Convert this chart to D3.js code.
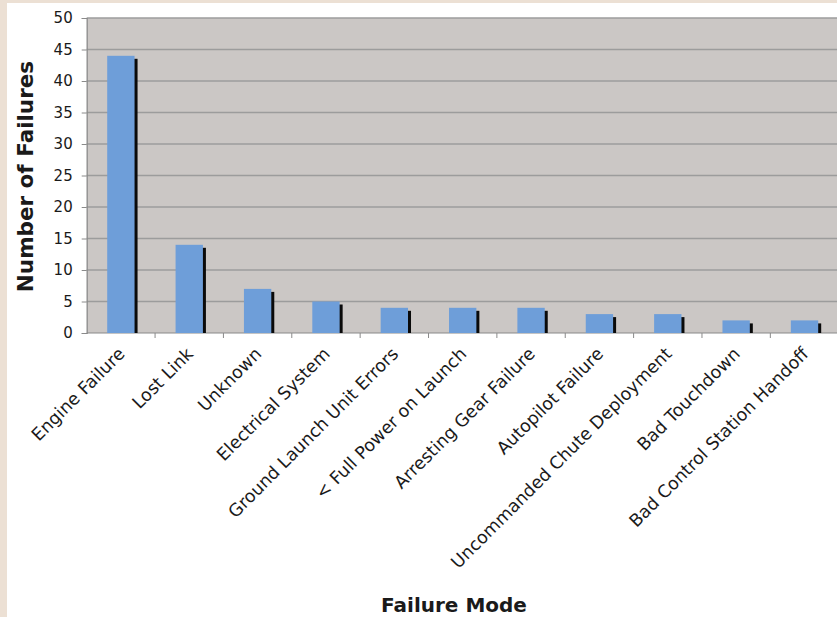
<!DOCTYPE html>
<html>
<head>
<meta charset="utf-8">
<script src="https://cdn.jsdelivr.net/npm/d3@7"></script>
<style>
  html, body { margin: 0; padding: 0; background: #ece0d4; }
  svg { display: block; }
  text { font-family: "DejaVu Sans", Verdana, sans-serif; fill: #1a1a1a; }
</style>
</head>
<body>
<svg id="chart" width="837" height="617"></svg>
<script>
// Failure counts by mode
const categories = [
  "Engine Failure",
  "Lost Link",
  "Unknown",
  "Electrical System",
  "Ground Launch Unit Errors",
  "< Full Power on Launch",
  "Arresting Gear Failure",
  "Autopilot Failure",
  "Uncommanded Chute Deployment",
  "Bad Touchdown",
  "Bad Control Station Handoff"
];
const failures = [44, 14, 7, 5, 4, 4, 4, 3, 3, 2, 2];
const yTicks = [0, 5, 10, 15, 20, 25, 30, 35, 40, 45, 50];
const yTitle = "Number of Failures";
const xTitle = "Failure Mode";

const W = 837, H = 617;
const plot = { left: 86.7, right: 838.7, top: 18, bottom: 333 };

const svg = d3.select("#chart");

// page frame: beige margin with white chart panel
svg.append("rect").attr("x", 0).attr("y", 0).attr("width", W).attr("height", H).attr("fill", "#ece0d4");
svg.append("rect").attr("x", 7).attr("y", 3).attr("width", W - 7).attr("height", H - 3).attr("fill", "#ffffff");

const x = d3.scaleBand()
  .domain(categories)
  .range([plot.left, plot.right])
  .paddingInner(0.6)
  .paddingOuter(0.3);

// category slots (no padding) for the tick marks between categories
const slot = d3.scaleBand().domain(categories).range([plot.left, plot.right]).padding(0);

const y = d3.scaleLinear().domain([0, 50]).range([plot.bottom, plot.top]);

// plot background
svg.append("rect")
  .attr("x", plot.left).attr("y", plot.top)
  .attr("width", plot.right - plot.left).attr("height", plot.bottom - plot.top)
  .attr("fill", "#cbc7c5");

// horizontal gridlines
svg.append("g").selectAll("line").data(yTicks.filter(d => d > 0)).join("line")
  .attr("x1", plot.left).attr("x2", plot.right)
  .attr("y1", d => y(d)).attr("y2", d => y(d))
  .attr("stroke", "#9c9c9c").attr("stroke-width", 1.5);

// y axis
const yAxis = svg.append("g")
  .attr("transform", `translate(${plot.left},0)`)
  .call(d3.axisLeft(y).tickValues(yTicks).tickSize(5).tickPadding(9));
yAxis.select(".domain").attr("stroke", "#8a8a8a").attr("stroke-width", 1.2);
yAxis.selectAll(".tick line").attr("stroke", "#8a8a8a");
yAxis.selectAll(".tick text")
  .style("font-family", '"DejaVu Sans", Verdana, sans-serif')
  .style("font-size", "15px").attr("fill", "#1a1a1a");

// x axis baseline and tick marks at category boundaries
svg.append("line")
  .attr("x1", plot.left).attr("x2", plot.right)
  .attr("y1", plot.bottom).attr("y2", plot.bottom)
  .attr("stroke", "#8a8a8a").attr("stroke-width", 1.2);
svg.append("g").selectAll("line").data(categories).join("line")
  .attr("x1", d => slot(d) + slot.bandwidth()).attr("x2", d => slot(d) + slot.bandwidth())
  .attr("y1", plot.bottom).attr("y2", plot.bottom + 5)
  .attr("stroke", "#8a8a8a");

// bars with a dark drop shadow
const bars = svg.append("g");
bars.selectAll("rect.shadow").data(categories).join("rect")
  .attr("class", "shadow")
  .attr("x", d => x(d) + 3)
  .attr("y", (d, i) => y(failures[i]) + 3)
  .attr("width", x.bandwidth())
  .attr("height", (d, i) => plot.bottom - y(failures[i]) - 3)
  .attr("fill", "#0a0a0a");
bars.selectAll("rect.bar").data(categories).join("rect")
  .attr("class", "bar")
  .attr("x", d => x(d))
  .attr("y", (d, i) => y(failures[i]))
  .attr("width", x.bandwidth())
  .attr("height", (d, i) => plot.bottom - y(failures[i]))
  .attr("fill", "#6e9ed9");

// rotated category labels
svg.append("g").selectAll("text").data(categories).join("text")
  .attr("transform", d => `translate(${x(d) + x.bandwidth() / 2 + 5},${plot.bottom + 22}) rotate(-45)`)
  .attr("text-anchor", "end")
  .style("font-size", "17.5px")
  .text(d => d);

// axis titles
svg.append("text")
  .attr("transform", `translate(33,${(plot.top + plot.bottom) / 2 + 1}) rotate(-90)`)
  .attr("text-anchor", "middle")
  .style("font-size", "21.5px").style("font-weight", "bold")
  .text(yTitle);
svg.append("text")
  .attr("x", 454).attr("y", 612)
  .attr("text-anchor", "middle")
  .style("font-size", "20px").style("font-weight", "bold")
  .text(xTitle);
</script>
</body>
</html>
